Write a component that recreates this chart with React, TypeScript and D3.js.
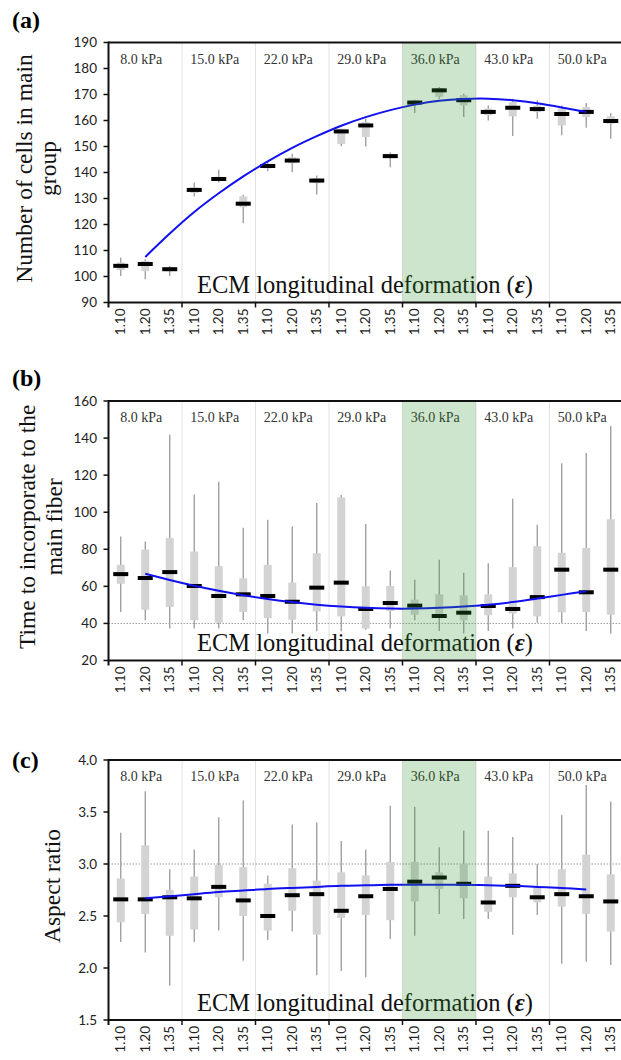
import React from "react";
import * as d3 from "d3";

// x categories
const strains = ["1.10", "1.20", "1.35"];
const stiffness = ["8.0 kPa", "15.0 kPa", "22.0 kPa", "29.0 kPa", "36.0 kPa", "43.0 kPa", "50.0 kPa"];
const highlightGroup = 4; // 36.0 kPa

// (a) number of cells in main group
const aTicks = [90, 100, 110, 120, 130, 140, 150, 160, 170, 180, 190];
const aMed = [104.1, 104.8, 102.8, 133.3, 137.5, 128, 142.5, 144.6, 136.9, 155.8, 158.1, 146.3, 166.9, 171.6, 167.8, 163.3, 164.9, 164.4, 162.5, 163.3, 159.8];
const aQ1 = [102.5, 102.1, 102.1, 132.1, 136.9, 126.6, 141.6, 143.6, 135.9, 151, 153.6, 145.6, 165.8, 169.1, 165.8, 162, 161.6, 163.3, 158.1, 161.3, 158.8];
const aQ3 = [105.4, 106, 103.6, 134.3, 138.4, 130.8, 143.3, 145.9, 137.9, 156.8, 159.4, 147.2, 167.8, 172.5, 169.7, 164.6, 167.1, 165.8, 164.6, 165.2, 161.6];
const aLo = [100.2, 98.9, 100.2, 130.8, 136.2, 120.5, 140.5, 140.1, 131.5, 150.1, 150, 142, 162.9, 168.4, 161.3, 160, 154, 160.7, 154.3, 157.2, 153];
const aHi = [107.3, 106.6, 104, 136.2, 141.1, 131.4, 144, 147.2, 138.8, 156.8, 160.7, 147.8, 168, 172.9, 170.3, 165.8, 168.4, 167.8, 165.8, 166.7, 162.9];
// fitted curve, categories 2..20
const aFit = [107.5, 116.5, 124.8, 132, 138.5, 144.3, 149.5, 154, 158, 161.3, 164, 166.1, 167.6, 168.3, 168.4, 167.8, 166.6, 165, 163.3];

// (b) time to incorporate to the main fiber
const bTicks = [20, 40, 60, 80, 100, 120, 140, 160];
const bMed = [66.6, 64.5, 67.7, 60.2, 54.8, 55.7, 54.8, 51.7, 59.3, 62, 47.8, 51, 49.6, 44, 45.8, 49.4, 47.8, 54.2, 69, 56.8, 69];
const bQ1 = [61.4, 47.4, 48.9, 41.7, 40.4, 46.2, 42.8, 42, 46.5, 43.8, 37.2, 46.7, 44.7, 43.5, 41.7, 44.4, 45.3, 43.8, 46, 46.2, 44.7];
const bQ3 = [71.6, 79.9, 86, 78.8, 70.9, 64.3, 71.6, 62.1, 77.9, 108, 60, 60.2, 52.8, 55.7, 55.1, 55.7, 70.4, 81.7, 78.1, 80.8, 96.2];
const bLo = [46.2, 41.7, 37.2, 37.2, 37.2, 41.7, 34.5, 34.5, 35.8, 35.8, 36.6, 37.2, 41.7, 35.9, 34.5, 35.9, 37.2, 40.4, 40.4, 35.9, 34.5];
const bHi = [86.9, 84.2, 141.8, 109.5, 116.5, 91.6, 96, 92.3, 105, 109.3, 93.7, 68.6, 63.6, 74.3, 67.3, 72.5, 107.2, 93.2, 126.4, 131.9, 146.5];
const bFit = [66.8, 63.4, 60.3, 57.6, 55.2, 53.2, 51.5, 50.1, 49.1, 48.4, 48, 48, 48.4, 49.1, 50.1, 51.5, 53.4, 55.4, 57.4];

// (c) aspect ratio
const cTicks = [1.5, 2.0, 2.5, 3.0, 3.5, 4.0];
const cMed = [2.66, 2.66, 2.68, 2.67, 2.78, 2.65, 2.5, 2.7, 2.71, 2.55, 2.69, 2.76, 2.83, 2.87, 2.81, 2.63, 2.79, 2.68, 2.71, 2.69, 2.64];
const cQ1 = [2.44, 2.52, 2.31, 2.37, 2.68, 2.5, 2.36, 2.55, 2.32, 2.48, 2.51, 2.46, 2.64, 2.76, 2.67, 2.54, 2.68, 2.63, 2.59, 2.52, 2.35];
const cQ3 = [2.86, 3.18, 2.75, 2.88, 2.99, 2.97, 2.81, 2.96, 2.84, 2.92, 2.89, 3.02, 3.02, 2.92, 3.0, 2.88, 2.91, 2.78, 2.95, 3.09, 2.9];
const cLo = [2.25, 2.15, 1.83, 2.25, 2.36, 2.07, 2.27, 2.35, 1.93, 1.97, 1.91, 2.28, 2.31, 2.52, 2.47, 2.47, 2.32, 2.51, 2.04, 2.06, 2.03];
const cHi = [3.3, 3.7, 2.95, 3.14, 3.45, 3.61, 2.89, 3.38, 3.4, 3.22, 3.14, 3.56, 3.55, 3.16, 3.32, 3.32, 3.26, 3.0, 3.47, 3.76, 3.6];
const cFit = [2.67, 2.69, 2.71, 2.73, 2.745, 2.76, 2.77, 2.78, 2.79, 2.795, 2.8, 2.8, 2.8, 2.8, 2.795, 2.79, 2.78, 2.77, 2.755];

const SERIF = "'Liberation Serif', 'Times New Roman', serif";
const SANS = "Lato, 'Open Sans', sans-serif";
const W = 621;
const H = 1060;
const LEFT = 108.5;
const STEP = 24.5;

const cats = stiffness.flatMap((s) => strains.map((e) => s + " " + e));
const x = d3
  .scaleBand<number>()
  .domain(d3.range(cats.length))
  .range([LEFT, LEFT + cats.length * STEP]);

const panels = [
  {
    tag: "(a)", tagY: 28, top: 42.5, bottom: 302.5, ticks: aTicks, fmt: (v: number) => String(v),
    med: aMed, q1: aQ1, q3: aQ3, lo: aLo, hi: aHi, fit: aFit, ref: null as number | null,
    title: ["Number of cells in main", "group"], titleX: [32, 55.5],
  },
  {
    tag: "(b)", tagY: 386, top: 401, bottom: 660.5, ticks: bTicks, fmt: (v: number) => String(v),
    med: bMed, q1: bQ1, q3: bQ3, lo: bLo, hi: bHi, fit: bFit, ref: 40,
    title: ["Time to incorporate to the", "main fiber"], titleX: [35, 62],
  },
  {
    tag: "(c)", tagY: 768, top: 760, bottom: 1020, ticks: cTicks, fmt: d3.format(".1f"),
    med: cMed, q1: cQ1, q3: cQ3, lo: cLo, hi: cHi, fit: cFit, ref: 3.0,
    title: ["Aspect ratio"], titleX: [60],
  },
];

function Panel({ p }: { p: (typeof panels)[number] }) {
  const y = d3
    .scaleLinear()
    .domain([p.ticks[0], p.ticks[p.ticks.length - 1]])
    .range([p.bottom, p.top]);
  const bw = x.bandwidth();
  const cx = (i: number) => (x(i) as number) + bw / 2;
  const right = W + 5;
  const fitPath = d3
    .line<number>()
    .x((_, k) => cx(k + 1))
    .y((v) => y(v))
    .curve(d3.curveNatural)(p.fit);
  const groupX = (g: number) => x(g * 3) as number;
  const midY = (p.top + p.bottom) / 2 - 4;

  return (
    <g>
      <text x={12} y={p.tagY} fontFamily={SERIF} fontWeight="bold" fontSize={24}>
        {p.tag}
      </text>

      {/* group separators */}
      {d3.range(1, stiffness.length).map((g) => (
        <line key={g} x1={groupX(g)} x2={groupX(g)} y1={p.top} y2={p.bottom} stroke="#e2e2e2" strokeWidth={1} />
      ))}

      {p.ref !== null && (
        <line x1={LEFT} x2={right} y1={y(p.ref)} y2={y(p.ref)} stroke="#9a9a9a" strokeWidth={1} strokeDasharray="1.5,1.5" />
      )}

      {/* boxes */}
      {cats.map((_, i) => (
        <g key={i}>
          <line x1={cx(i)} x2={cx(i)} y1={y(p.lo[i])} y2={y(p.hi[i])} stroke="#9a9a9a" strokeWidth={1.3} />
          <rect x={cx(i) - 4} width={8} y={y(p.q3[i])} height={Math.max(1, y(p.q1[i]) - y(p.q3[i]))} fill="#d3d3d3" />
          <rect x={cx(i) - 7.5} width={15} y={y(p.med[i]) - 2} height={4} fill="#000" />
        </g>
      ))}

      <path d={fitPath ?? ""} fill="none" stroke="#1010f0" strokeWidth={2} />

      {/* stiffness labels */}
      {stiffness.map((s, g) => (
        <text key={s} x={groupX(g) + 1.5 * STEP - 4} y={p.top + 21} textAnchor="middle" fontFamily={SERIF} fontSize={14} fill="#333">
          {s}
        </text>
      ))}

      <text x={365} y={p.bottom - 9.5} textAnchor="middle" fontFamily={SERIF} fontSize={24.5} fill="#111">
        ECM longitudinal deformation (<tspan fontStyle="italic" fontWeight="bold">ε</tspan>)
      </text>

      {/* highlighted stiffness */}
      <rect
        x={groupX(highlightGroup)}
        width={3 * STEP}
        y={p.top}
        height={p.bottom - p.top}
        fill="rgb(50,148,46)"
        fillOpacity={0.245}
      />

      {/* frame & axes */}
      <line x1={LEFT} x2={right} y1={p.top} y2={p.top} stroke="#111" strokeWidth={2} />
      <line x1={LEFT} x2={right} y1={p.bottom} y2={p.bottom} stroke="#111" strokeWidth={2} />
      <line x1={LEFT} x2={LEFT} y1={p.top - 1} y2={p.bottom + 5} stroke="#111" strokeWidth={2} />
      {d3.range(1, stiffness.length + 1).map((g) => (
        <line key={g} x1={groupX(g) || LEFT + 21 * STEP} x2={groupX(g) || LEFT + 21 * STEP} y1={p.bottom} y2={p.bottom + 5} stroke="#111" strokeWidth={1.5} />
      ))}
      {p.ticks.map((t) => (
        <g key={t}>
          <line x1={LEFT - 5} x2={LEFT} y1={y(t)} y2={y(t)} stroke="#111" strokeWidth={1.5} />
          <text x={97} y={y(t)} dy="0.35em" textAnchor="end" fontFamily={SANS} fontSize={13.5} fill="#222">
            {p.fmt(t)}
          </text>
        </g>
      ))}
      {cats.map((_, i) => (
        <text
          key={i}
          transform={`translate(${cx(i) + 4.5},${p.bottom + 6}) rotate(-90)`}
          textAnchor="end"
          fontFamily={SANS}
          fontSize={13.5}
          fill="#222"
        >
          {strains[i % 3]}
        </text>
      ))}

      {p.title.map((t, k) => (
        <text
          key={t}
          transform={`translate(${p.titleX[k]},${midY}) rotate(-90)`}
          textAnchor="middle"
          fontFamily={SERIF}
          fontSize={23.5}
          fill="#111"
        >
          {t}
        </text>
      ))}
    </g>
  );
}

export default function App() {
  return (
    <svg
      width={W}
      height={H}
      viewBox={`0 0 ${W} ${H}`}
      style={{ position: "absolute", left: 0, top: 0, background: "#fff", display: "block" }}
    >
      <rect width={W} height={H} fill="#fff" />
      {panels.map((p) => (
        <Panel key={p.tag} p={p} />
      ))}
    </svg>
  );
}
